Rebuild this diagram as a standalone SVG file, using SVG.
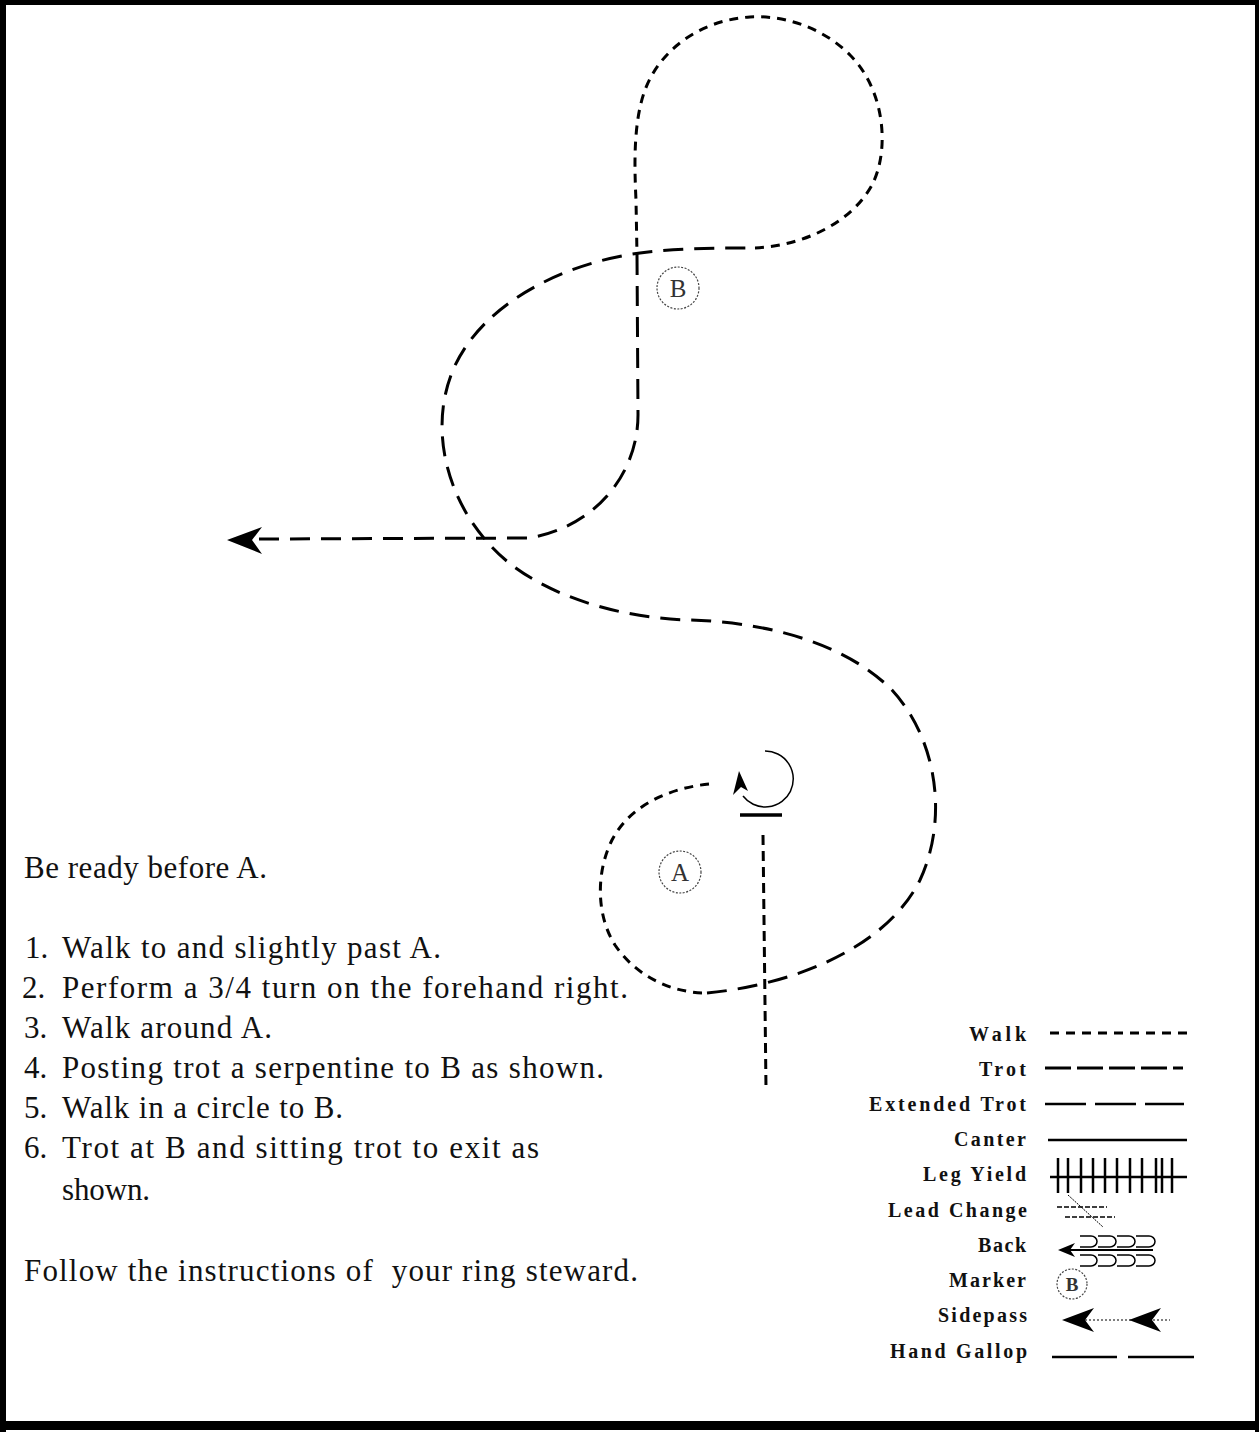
<svg xmlns="http://www.w3.org/2000/svg" width="1259" height="1432" viewBox="0 0 1259 1432">
<style>
.walk{fill:none;stroke:#000;stroke-width:3;stroke-dasharray:9 7}
.trot{fill:none;stroke:#000;stroke-width:3;stroke-dasharray:20 11}
.solid{fill:none;stroke:#000;stroke-width:2.5}
.thin{fill:none;stroke:#000;stroke-width:1.5}
.mk{fill:none;stroke:#444;stroke-width:1.2;stroke-dasharray:2 1.5}
.mt{font-family:"Liberation Serif",serif;fill:#333;text-anchor:middle}
.body{font-family:"Liberation Serif",serif;font-size:31px;fill:#111}
.lg{font-family:"Liberation Serif",serif;font-weight:bold;font-size:20px;fill:#111;text-anchor:end}
</style>
<rect x="0" y="0" width="1259" height="1432" fill="#fff"/>
<g id="border" fill="#000">
<rect x="0" y="0" width="1259" height="5"/>
<rect x="0" y="0" width="6" height="1432"/>
<rect x="1255" y="0" width="4" height="1432"/>
<rect x="0" y="1421" width="1259" height="9"/>
</g>
<g id="connectors">
<path id="walk-entry" class="walk" d="M763,835 L766,1088" style="stroke-dasharray:10 6"/>
<path id="walk-around-A" class="walk" d="M709,784 C670,788 630,805 612,840 C596,872 596,915 615,945 C635,975 670,993 707,993"/>
<path id="trot-serpentine" class="trot" d="M707,993 C790,985 885,950 920,880 C948,820 938,740 892,690 C842,640 760,622 690,620 C610,618 530,590 490,545 C448,500 428,430 453,370 C483,300 570,262 640,253 C680,248 720,248 755,248"/>
<path id="walk-circle-B" class="walk" d="M755,248 C800,246 850,225 872,185 C890,150 885,90 850,55 C820,25 780,15 750,17 C700,20 660,50 645,90 C634,120 634,160 636,200 L637,255"/>
<path id="trot-exit" class="trot" d="M637,255 L638,415 C638,470 600,525 530,538 L258,539"/>
<polygon id="exit-arrow" points="227,540 262,527 252,540 262,554" fill="#000"/>
</g>
<g id="turn">
<path class="thin" d="M765,751 A28,28 0 1 1 743,796"/>
<polygon points="739,771 748,791 741,787 733,795" fill="#000"/>
<line x1="740" y1="815" x2="782" y2="815" stroke="#000" stroke-width="3.5"/>
</g>
<g id="marker-A">
<circle class="mk" cx="680" cy="872" r="21"/>
<text class="mt" x="680" y="881" font-size="25">A</text>
</g>
<g id="marker-B">
<circle class="mk" cx="678" cy="288" r="21"/>
<text class="mt" x="678" y="297" font-size="25">B</text>
</g>
<g id="instructions">
<text class="body" x="24" y="878" textLength="243" lengthAdjust="spacing">Be ready before A.</text>
<text class="body" x="25" y="958">1.</text>
<text class="body" x="62" y="958" textLength="379" lengthAdjust="spacing">Walk to and slightly past A.</text>
<text class="body" x="22" y="998">2.</text>
<text class="body" x="62" y="998" textLength="566" lengthAdjust="spacing">Perform a 3/4 turn on the forehand right.</text>
<text class="body" x="24" y="1038">3.</text>
<text class="body" x="62" y="1038" textLength="210" lengthAdjust="spacing">Walk around A.</text>
<text class="body" x="24" y="1078">4.</text>
<text class="body" x="62" y="1078" textLength="542" lengthAdjust="spacing">Posting trot a serpentine to B as shown.</text>
<text class="body" x="24" y="1118">5.</text>
<text class="body" x="62" y="1118" textLength="281" lengthAdjust="spacing">Walk in a circle to B.</text>
<text class="body" x="24" y="1158">6.</text>
<text class="body" x="62" y="1158" textLength="477" lengthAdjust="spacing">Trot at B and sitting trot to exit as</text>
<text class="body" x="62" y="1200" textLength="88" lengthAdjust="spacing">shown.</text>
<text class="body" x="24" y="1281" textLength="614" lengthAdjust="spacing" xml:space="preserve">Follow the instructions of  your ring steward.</text>
</g>
<g id="legend">
<g id="lg-walk">
<text class="lg" x="1026" y="1041" textLength="57" lengthAdjust="spacing">Walk</text>
<line class="walk" x1="1050" y1="1033" x2="1190" y2="1033"/>
</g>
<g id="lg-trot">
<text class="lg" x="1026" y="1076" textLength="47" lengthAdjust="spacing">Trot</text>
<line class="trot" x1="1045" y1="1068" x2="1183" y2="1068" style="stroke-dasharray:26 6"/>
</g>
<g id="lg-extended-trot">
<text class="lg" x="1026" y="1111" textLength="157" lengthAdjust="spacing">Extended Trot</text>
<line class="solid" x1="1045" y1="1104" x2="1184" y2="1104" style="stroke-dasharray:41 9"/>
</g>
<g id="lg-canter">
<text class="lg" x="1026" y="1146" textLength="72" lengthAdjust="spacing">Canter</text>
<line class="solid" x1="1048" y1="1140" x2="1187" y2="1140"/>
</g>
<g id="lg-leg-yield">
<text class="lg" x="1026" y="1181" textLength="103" lengthAdjust="spacing">Leg Yield</text>
<line class="solid" x1="1050" y1="1177" x2="1187" y2="1177"/>
<path class="solid" d="M1058,1158V1193M1068,1158V1193M1081,1158V1193M1093,1158V1193M1105,1158V1193M1117,1158V1193M1130,1158V1193M1142,1158V1193M1156,1158V1193M1162,1158V1193M1172,1158V1193"/>
</g>
<g id="lg-lead-change">
<text class="lg" x="1027" y="1217" textLength="139" lengthAdjust="spacing">Lead Change</text>
<line class="thin" x1="1057" y1="1207" x2="1107" y2="1207" style="stroke-dasharray:5 2"/>
<line class="thin" x1="1065" y1="1217" x2="1115" y2="1217" style="stroke-dasharray:5 2"/>
<line x1="1068" y1="1195" x2="1103" y2="1227" stroke="#000" stroke-width="1" stroke-dasharray="2 1"/>
</g>
<g id="lg-back">
<text class="lg" x="1026" y="1252" textLength="48" lengthAdjust="spacing">Back</text>
<line class="thin" x1="1068" y1="1250" x2="1153" y2="1250" style="stroke-width:2"/>
<polygon points="1058,1250 1075,1243 1070,1250 1075,1257" fill="#000"/>
<path class="thin" d="M1080,1236H1091A6,5.5 0 0 1 1091,1247H1080M1098,1236H1110A6,5.5 0 0 1 1110,1247H1098M1117,1236H1129A6,5.5 0 0 1 1129,1247H1117M1136,1236H1149A6,5.5 0 0 1 1149,1247H1136"/>
<path class="thin" d="M1080,1255H1091A6,5.5 0 0 1 1091,1266H1080M1098,1255H1110A6,5.5 0 0 1 1110,1266H1098M1117,1255H1129A6,5.5 0 0 1 1129,1266H1117M1136,1255H1149A6,5.5 0 0 1 1149,1266H1136"/>
</g>
<g id="lg-marker">
<text class="lg" x="1026" y="1287" textLength="77" lengthAdjust="spacing">Marker</text>
<circle class="mk" cx="1072" cy="1284" r="15"/>
<text class="mt" x="1072" y="1291" font-size="19" font-weight="bold">B</text>
</g>
<g id="lg-sidepass">
<text class="lg" x="1027" y="1322" textLength="89" lengthAdjust="spacing">Sidepass</text>
<line x1="1085" y1="1320" x2="1170" y2="1320" stroke="#000" stroke-width="1.2" stroke-dasharray="2 2"/>
<polygon points="1062,1320 1094,1308 1085,1320 1094,1332" fill="#000"/>
<polygon points="1129,1320 1161,1308 1152,1320 1161,1332" fill="#000"/>
</g>
<g id="lg-hand-gallop">
<text class="lg" x="1027" y="1358" textLength="137" lengthAdjust="spacing">Hand Gallop</text>
<line class="solid" x1="1052" y1="1357" x2="1117" y2="1357"/>
<line class="solid" x1="1128" y1="1357" x2="1194" y2="1357"/>
</g>
</g>
</svg>
